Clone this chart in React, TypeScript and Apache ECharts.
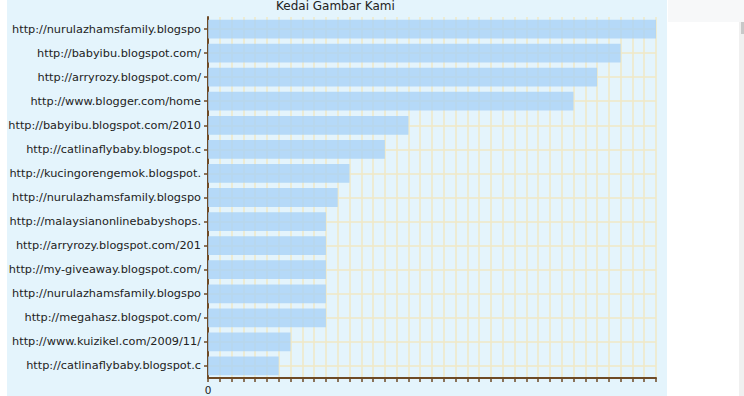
import React, { useEffect, useRef } from "react";
import * as echarts from "echarts";

const categories = [
  "http://nurulazhamsfamily.blogspo",
  "http://babyibu.blogspot.com/",
  "http://arryrozy.blogspot.com/",
  "http://www.blogger.com/home",
  "http://babyibu.blogspot.com/2010",
  "http://catlinaflybaby.blogspot.c",
  "http://kucingorengemok.blogspot.",
  "http://nurulazhamsfamily.blogspo",
  "http://malaysianonlinebabyshops.",
  "http://arryrozy.blogspot.com/201",
  "http://my-giveaway.blogspot.com/",
  "http://nurulazhamsfamily.blogspo",
  "http://megahasz.blogspot.com/",
  "http://www.kuizikel.com/2009/11/",
  "http://catlinaflybaby.blogspot.c",
];
const values = [38, 35, 33, 31, 17, 15, 12, 11, 10, 10, 10, 10, 10, 7, 6];
const titleText = "Kedai Gambar Kami";
const axisMax = 38;

export default function App() {
  const ref = useRef<HTMLDivElement>(null);
  useEffect(() => {
    document.body.style.margin = "0";
    const chart = echarts.init(ref.current!, undefined, { renderer: "svg" });
    const brown = "#6e4a26";
    const gridColor = "#f1e8c6";
    chart.setOption({
      animation: false,
      textStyle: { fontFamily: "DejaVu Sans" },
      graphic: [
        { type: "rect", shape: { x: 7, y: 0, width: 660, height: 396 }, style: { fill: "#e4f4fc" }, z: -10 },
        { type: "rect", shape: { x: 668, y: 0, width: 76, height: 22 }, style: { fill: "#f7f8f9" }, z: -10 },
        { type: "rect", shape: { x: 739, y: 22, width: 5, height: 374 }, style: { fill: "#f0f0f0" }, z: -10 },
        { type: "rect", shape: { x: 741, y: 22, width: 3, height: 12 }, style: { fill: "#c8c8c8" }, z: -10 },
      ],
      title: {
        text: titleText,
        left: 276,
        top: 0,
        padding: 0,
        textStyle: { fontSize: 12, fontWeight: "normal", color: "#222", fontFamily: "DejaVu Sans" },
      },
      grid: { left: 208, right: 88, top: 17, bottom: 18, containLabel: false },
      xAxis: {
        type: "value",
        min: 0,
        max: axisMax,
        interval: 1,
        axisLine: { show: true, lineStyle: { color: brown, width: 2 } },
        axisTick: { show: true, length: 4, lineStyle: { color: brown, width: 1.5 } },
        axisLabel: {
          formatter: (v: number) => (v === 0 ? "0" : ""),
          color: "#222",
          fontSize: 10.5,
          margin: 6,
          fontFamily: "DejaVu Sans",
        },
        splitLine: { show: true, lineStyle: { color: gridColor, width: 1.5 } },
      },
      yAxis: {
        type: "category",
        data: categories,
        inverse: true,
        axisLine: { show: true, lineStyle: { color: brown, width: 2 } },
        axisTick: { show: true, alignWithLabel: true, length: 4, lineStyle: { color: brown, width: 1.5 } },
        axisLabel: { color: "#222", fontSize: 11.3, margin: 7, fontFamily: "DejaVu Sans" },
        splitLine: { show: true, alignWithLabel: true, lineStyle: { color: gridColor, width: 1.5 } },
      },
      series: [
        {
          type: "bar",
          data: values,
          barCategoryGap: "22%",
          itemStyle: { color: "#a9d2f6", opacity: 0.8 },
        },
      ],
    });
    return () => chart.dispose();
  }, []);
  return <div ref={ref} style={{ width: 744, height: 396 }} />;
}
